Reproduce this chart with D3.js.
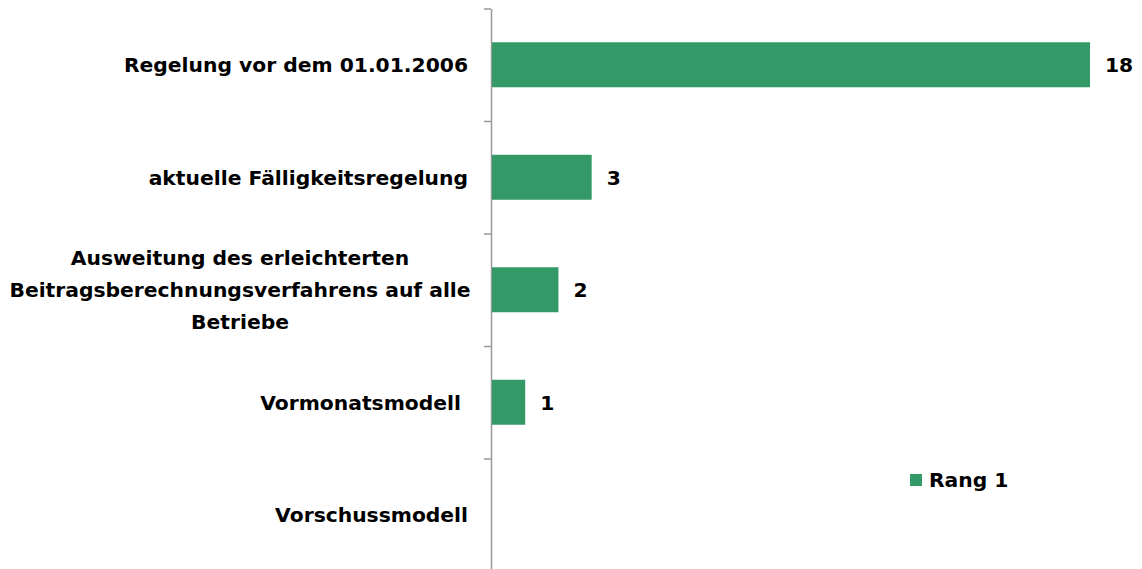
<!DOCTYPE html>
<head>
  <meta charset="utf-8">
  <script src="https://d3js.org/d3.v7.min.js"></script>
  <style>
    body { margin:0; background:#fff; }
    text { font-family: "DejaVu Sans", sans-serif; font-weight: bold; fill: #000; }
  </style>
</head>

<body>
  <script>
    // data
    var categories = ["Regelung vor dem 01.01.2006", "aktuelle Fälligkeitsregelung",
      "Ausweitung des erleichterten Beitragsberechnungsverfahrens auf alle Betriebe",
      "Vormonatsmodell ", "Vorschussmodell"];
    var labelLines = [["Regelung vor dem 01.01.2006"], ["aktuelle Fälligkeitsregelung"],
      ["Ausweitung des erleichterten", "Beitragsberechnungsverfahrens auf alle", "Betriebe"],
      ["Vormonatsmodell "], ["Vorschussmodell"]];
    var values = [18, 3, 2, 1, null];
    var seriesName = "Rang 1";

    var width = 1142, height = 569;
    var green = "#339966";
    var fontSize = "20.3px";

    var svg = d3.select("body").append("svg")
      .attr("width", width)
      .attr("height", height);

    var y = d3.scaleBand()
      .domain(categories)
      .range([8.5, 571])
      .paddingInner(0.6)
      .paddingOuter(0.3);

    var x = d3.scaleLinear()
      .domain([0, 18])
      .range([492, 1090]);

    // axis with ticks between categories
    var tickPos = d3.scaleLinear().domain([0, categories.length]).range([8.5, 571]);
    svg.append("g")
      .attr("transform", "translate(491,0)")
      .call(d3.axisLeft(tickPos).tickValues(d3.range(0, categories.length + 1)).tickSize(7).tickSizeOuter(0).tickFormat(""))
      .call(function(g) {
        g.selectAll("line, path").attr("stroke", "#999").attr("stroke-width", 1.5);
      });

    var barData = categories.map(function(c, i) { return {cat: c, v: values[i]}; })
      .filter(function(d) { return d.v != null; });

    // bars
    svg.selectAll(".bar")
      .data(barData)
      .enter().append("rect")
      .attr("class", "bar")
      .attr("x", x(0))
      .attr("y", function(d) { return y(d.cat); })
      .attr("width", function(d) { return x(d.v) - x(0); })
      .attr("height", y.bandwidth())
      .attr("fill", green);

    // value labels
    svg.selectAll(".val")
      .data(barData)
      .enter().append("text")
      .attr("class", "val")
      .attr("x", function(d) { return x(d.v) + 15; })
      .attr("y", function(d) { return y(d.cat) + y.bandwidth() / 2; })
      .attr("dy", "0.36em")
      .style("font-size", fontSize)
      .text(function(d) { return d.v; });

    // category labels
    var lineH = 32;
    categories.forEach(function(c, i) {
      var lines = labelLines[i];
      var cy = y(c) + y.bandwidth() / 2;
      var multi = lines.length > 1;
      var t = svg.append("text")
        .attr("text-anchor", multi ? "middle" : "end")
        .attr("xml:space", "preserve")
        .style("white-space", "pre")
        .style("font-size", fontSize);
      lines.forEach(function(l, j) {
        t.append("tspan")
          .attr("x", multi ? 240 : 468)
          .attr("y", cy + (j - (lines.length - 1) / 2) * lineH)
          .attr("dy", "0.36em")
          .text(l);
      });
    });

    // legend
    var legend = svg.append("g").attr("transform", "translate(910,474)");
    legend.append("rect").attr("width", 12).attr("height", 12).attr("fill", green);
    legend.append("text").attr("x", 19).attr("y", 6).attr("dy", "0.36em")
      .style("font-size", fontSize).text(seriesName);
  </script>
</body>
